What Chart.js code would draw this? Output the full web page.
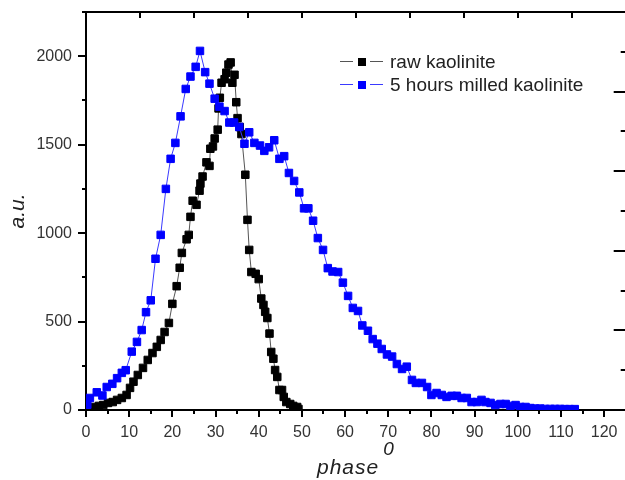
<!DOCTYPE html>
<html>
<head>
<meta charset="utf-8">
<script src="https://cdn.jsdelivr.net/npm/chart.js@4.4.0/dist/chart.umd.min.js"></script>
<style>
    html, body { margin: 0; padding: 0; background: #fff; overflow: hidden; }
    #wrap { position: relative; width: 625px; height: 480px; overflow: hidden; }
    #chart { position: absolute; left: 0; top: 0; }
    #legend { position: absolute; left: 340px; top: 50px; font: 19px 'Liberation Sans', Arial, sans-serif; color: #222; }
    #legend .row { display: flex; align-items: center; height: 23px; white-space: nowrap; }
    #legend .ln { display: inline-block; width: 13px; height: 1.5px; }
    #legend .sq { display: inline-block; width: 8px; height: 8px; margin: 0 4px 0 5px; }
    #legend .txt { margin-left: 7px; }
    #xtitle { position: absolute; left: 317px; top: 448px; font: italic 21px 'Liberation Sans', Arial, sans-serif; color: #222; letter-spacing: 1px; line-height: 24px; }
    #xtitle sup { font-size: 19px; margin-left: 4px; position: relative; top: -11px; }
</style>
</head>
<body>
<div id="wrap">
    <canvas id="chart" width="632" height="480"></canvas>
    <div id="legend"></div>
    <div id="xtitle">phase<sup>0</sup></div>
</div>
<script>
// raw kaolinite
const rawX = [1.8, 3, 4, 5.1, 6.2, 7.2, 8.3, 9.4, 10.2, 11, 12, 13.2, 14.3, 15.4, 16.4, 17.3, 18.2, 19.2,
    20, 21, 21.7, 22.2, 23.3, 23.8, 24.2, 24.7, 25.6, 26.3, 26.5, 27, 27.9, 28.6, 28.8, 29.4, 29.8, 30.5,
    30.7, 31, 31.4, 32.1, 32.5, 33, 33.5, 33.9, 34.4, 34.8, 35.1, 35.6, 36, 36.9, 37.4, 37.8, 38.3, 39.3,
    40, 40.6, 41.1, 41.5, 42, 42.5, 42.9, 43.4, 43.8, 44.3, 44.8, 45.4, 45.8, 46.4, 47.3, 48, 48.9, 49.2];
const rawY = [17, 23, 28, 40, 45, 57, 68, 85, 125, 160, 198, 238, 283, 322, 357, 396, 441, 492,
    600, 700, 804, 888, 965, 990, 1092, 1183, 1160, 1240, 1280, 1320, 1400, 1380, 1477, 1490, 1535, 1585,
    1705, 1765, 1850, 1870, 1907, 1953, 1965, 1850, 1895, 1740, 1650, 1600, 1560, 1330, 1075, 905, 780, 770,
    740, 630, 594, 555, 520, 432, 328, 290, 226, 187, 113, 113, 74, 45, 34, 23, 17, 6];

// 5 hours milled kaolinite
const milledX = [0.3, 0.9, 2.5, 3.8, 4.8, 6.1, 7.2, 8.3, 9.2, 10.6, 11.8, 12.9, 13.9, 15, 16.1, 17.3, 18.5,
    19.6, 20.7, 21.9, 23.1, 24.2, 25.4, 26.4, 27.6, 28.6, 29.8, 30.9, 32.1, 33.2, 34.3, 35.5, 36.7, 37.8,
    39, 40.3, 41.3, 42.4, 43.6, 44.8, 45.9, 47, 48.2, 49.4, 50.5, 51.5, 52.6, 53.7, 54.9, 56, 57.1, 58.4,
    59.5, 60.7, 61.8, 63, 64, 65.3, 66.4, 67.5, 68.5, 69.7, 70.9, 72, 73.2, 74.3, 75.5, 76.4, 77.8, 79,
    80, 81.2, 82.4, 83.5, 84.7, 85.9, 87, 88.2, 89.3, 90.5, 91.6, 92.5, 93.7, 94.8, 96, 97.2, 98.3, 99.5,
    100.6, 101.8, 102.9, 104, 105.2, 106.3, 107.5, 108.6, 109.8, 110.9, 112, 113.2];
const milledY = [30, 68, 100, 82, 130, 148, 180, 210, 225, 330, 385, 452, 553, 620, 855, 990, 1250,
    1420, 1510, 1660, 1815, 1885, 1940, 2030, 1910, 1845, 1760, 1715, 1690, 1625, 1625, 1600, 1505, 1570,
    1510, 1495, 1465, 1485, 1525, 1420, 1435, 1340, 1295, 1230, 1140, 1140, 1070, 972, 905, 802, 783, 780,
    720, 645, 577, 560, 478, 448, 401, 375, 345, 314, 302, 260, 232, 245, 170, 153, 153, 130,
    85, 96, 85, 74, 80, 80, 68, 68, 45, 45, 57, 45, 40, 28, 34, 34, 23, 28,
    17, 17, 11, 8, 8, 6, 6, 6, 6, 5, 5, 5];

const seriesNames = ['raw kaolinite', '5 hours milled kaolinite'];
const markerColors = ['#000000', '#0000ff'];
const lineColors = ['#555555', '#3a3aff'];

const toPoints = (xs, ys) => xs.map((x, i) => ({ x, y: ys[i] }));

// frame tick marks, placed with the scales' own pixel mapping
const frameTicks = {
    id: 'frameTicks',
    afterDraw(chart) {
        const { ctx, chartArea, scales } = chart;
        const line = (x1, y1, x2, y2) => {
            ctx.beginPath();
            ctx.moveTo(x1, y1);
            ctx.lineTo(x2, y2);
            ctx.stroke();
        };
        ctx.save();
        ctx.strokeStyle = '#000';
        ctx.lineWidth = 2;
        scales.x.ticks.forEach(t => {
            const px = Math.round(scales.x.getPixelForValue(t.value));
            line(px, chartArea.bottom, px, chartArea.bottom + (t.value % 10 === 0 ? 7 : 4));
        });
        scales.y.ticks.forEach(t => {
            const py = Math.round(scales.y.getPixelForValue(t.value));
            line(chartArea.left, py, chartArea.left - (t.value % 500 === 0 ? 8 : 4), py);
        });
        scales.x2.ticks.forEach(t => {
            const px = Math.round(scales.x2.getPixelForValue(t.value));
            line(px, chartArea.top, px, chartArea.top + 6);
        });
        scales.y2.ticks.forEach(t => {
            const py = Math.round(scales.y2.getPixelForValue(t.value));
            line(chartArea.right, py, chartArea.right - (t.value % 2 === 0 ? 12 : 5), py);
        });
        ctx.restore();
    }
};

// fixed axis boxes, no automatic label padding
const fixBox = (w, h) => s => {
    if (w !== null) s.width = w;
    if (h !== null) s.height = h;
    s.paddingTop = 0;
    s.paddingBottom = 0;
    s.paddingLeft = 0;
    s.paddingRight = 0;
};

const datasets = [0, 1].map(i => ({
    label: seriesNames[i],
    data: i === 0 ? toPoints(rawX, rawY) : toPoints(milledX, milledY),
    borderColor: lineColors[i],
    borderWidth: 1,
    pointStyle: 'rect',
    pointRadius: 5.3,
    pointBorderWidth: 1,
    pointBackgroundColor: markerColors[i],
    pointBorderColor: markerColors[i],
    tension: 0,
    order: i === 0 ? 1 : 0
}));

const tickFont = { family: "'Liberation Sans', Arial, sans-serif", size: 16 };

new Chart(document.getElementById('chart'), {
    type: 'line',
    data: { datasets },
    options: {
        responsive: false,
        animation: false,
        events: [],
        layout: { padding: { top: 12, right: 4, left: 0, bottom: 0 } },
        plugins: { legend: { display: false }, tooltip: { enabled: false } },
        scales: {
            x: {
                type: 'linear', position: 'bottom', min: 0, max: 125,
                grid: { display: false, drawTicks: false },
                border: { display: true, color: '#000', width: 2 },
                ticks: {
                    stepSize: 5, autoSkip: false, maxRotation: 0, padding: 13,
                    color: '#333', font: tickFont,
                    callback: v => (v % 10 === 0 && v <= 120 ? v : '')
                },
                afterFit: fixBox(null, 70)
            },
            y: {
                type: 'linear', position: 'left', min: 0, max: 2250,
                grid: { display: false, drawTicks: false },
                border: { display: true, color: '#000', width: 2 },
                ticks: {
                    stepSize: 250, autoSkip: false, padding: 14,
                    color: '#333', font: tickFont,
                    callback: v => (v % 500 === 0 ? v : '')
                },
                title: {
                    display: true, text: 'a.u.', color: '#222',
                    font: { family: "'Liberation Sans', Arial, sans-serif", size: 21, style: 'italic' },
                    padding: { top: 6, bottom: 0 }
                },
                afterFit: fixBox(86, null)
            },
            x2: {
                type: 'linear', position: 'top', min: 0, max: 10,
                grid: { display: false, drawTicks: false },
                border: { display: true, color: '#000', width: 2 },
                ticks: { display: false, stepSize: 1 },
                afterFit: fixBox(null, 0)
            },
            y2: {
                type: 'linear', position: 'right', min: 0, max: 10,
                grid: { display: false, drawTicks: false },
                border: { display: true, color: '#000', width: 2 },
                ticks: { display: false, stepSize: 1 },
                afterFit: fixBox(0, null)
            }
        }
    },
    plugins: [frameTicks]
});

const legend = document.getElementById('legend');
seriesNames.forEach((name, i) => {
    const row = document.createElement('div');
    row.className = 'row';
    row.innerHTML = `
        <span class="ln" style="background:${lineColors[i]}"></span>
        <span class="sq" style="background:${markerColors[i]}"></span>
        <span class="ln" style="background:${lineColors[i]}"></span>
        <span class="txt">${name}</span>`;
    legend.appendChild(row);
});
</script>
</body>
</html>
